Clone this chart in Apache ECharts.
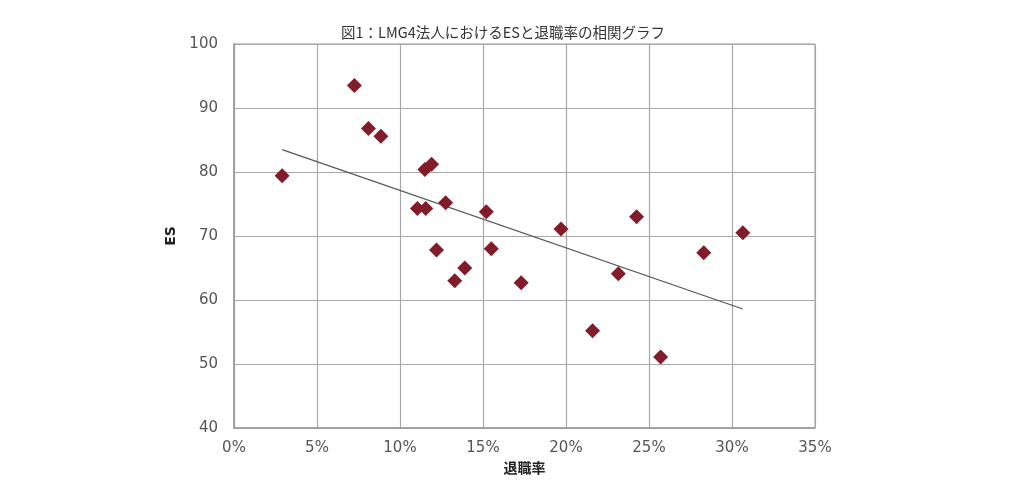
<!DOCTYPE html>
<html>
<head>
<meta charset="utf-8">
<script src="https://cdn.jsdelivr.net/npm/echarts@6/dist/echarts.min.js"></script>
<style>
  html, body { margin: 0; padding: 0; background: #fff; }
  #chart { width: 1024px; height: 497px; }
</style>
</head>
<body>
<div id="chart"></div>
<script>
// turnover rate (%) and ES score per corporation
var turnover = [2.9, 7.25, 8.1, 8.85, 11.5, 11.9, 11.05, 11.55, 12.75, 15.2, 12.2, 15.5, 13.9, 13.3, 17.3, 19.7, 24.25, 30.65, 28.3, 23.15, 21.6, 25.7];
var esScore = [79.4, 93.5, 86.8, 85.6, 80.4, 81.2, 74.3, 74.3, 75.2, 73.8, 67.8, 68.0, 65.0, 63.0, 62.7, 71.1, 73.0, 70.5, 67.4, 64.1, 55.2, 51.1];
// trend line ends
var trendX = [2.9, 30.65];
var trendY = [83.5, 58.6];

var titleText = "図1：LMG4法人におけるESと退職率の相関グラフ";
var xName = "退職率";
var yName = "ES";

var points = turnover.map(function(x, i) { return [x, esScore[i]]; });
var trend = trendX.map(function(x, i) { return [x, trendY[i]]; });

var chart = echarts.init(document.getElementById("chart"), null, { renderer: "canvas" });
chart.setOption({
  animation: false,
  backgroundColor: "#fff",
  title: {
    text: titleText,
    left: 498,
    top: 20,
    textAlign: "center",
    textStyle: { fontSize: 14.5, fontWeight: "normal", color: "#333", fontFamily: "Noto Sans CJK JP" }
  },
  grid: { left: 234, right: 209, top: 44, bottom: 69, show: true, borderColor: "#999", borderWidth: 1 },
  xAxis: {
    type: "value",
    min: 0, max: 35, interval: 5,
    name: xName,
    nameLocation: "middle",
    nameGap: 33,
    nameTextStyle: { fontSize: 14, fontWeight: "bold", color: "#222", fontFamily: "Noto Sans CJK JP" },
    axisLine: { show: true, lineStyle: { color: "#999", width: 1.5 } },
    axisTick: { show: false },
    axisLabel: { formatter: "{value}%", fontSize: 15, color: "#555", margin: 13, fontFamily: "DejaVu Sans" },
    splitLine: { show: true, lineStyle: { color: "#a8a8a8", width: 1.2 } }
  },
  yAxis: {
    type: "value",
    min: 40, max: 100, interval: 10,
    name: yName,
    nameLocation: "middle",
    nameGap: 41,
    nameTextStyle: { fontSize: 14, fontWeight: "bold", color: "#222", fontFamily: "DejaVu Sans" },
    axisLine: { show: true, lineStyle: { color: "#999", width: 1.5 } },
    axisTick: { show: false },
    axisLabel: { fontSize: 15, color: "#555", margin: 16, fontFamily: "DejaVu Sans" },
    splitLine: { show: true, lineStyle: { color: "#a8a8a8", width: 1.2 } }
  },
  series: [
    {
      type: "line",
      data: trend,
      symbol: "none",
      lineStyle: { color: "#555", width: 1.2 },
      z: 1
    },
    {
      type: "scatter",
      data: points,
      symbol: "diamond",
      symbolSize: [15, 15],
      itemStyle: { color: "#821c2b", opacity: 1 },
      z: 3
    }
  ]
});
</script>
</body>
</html>
